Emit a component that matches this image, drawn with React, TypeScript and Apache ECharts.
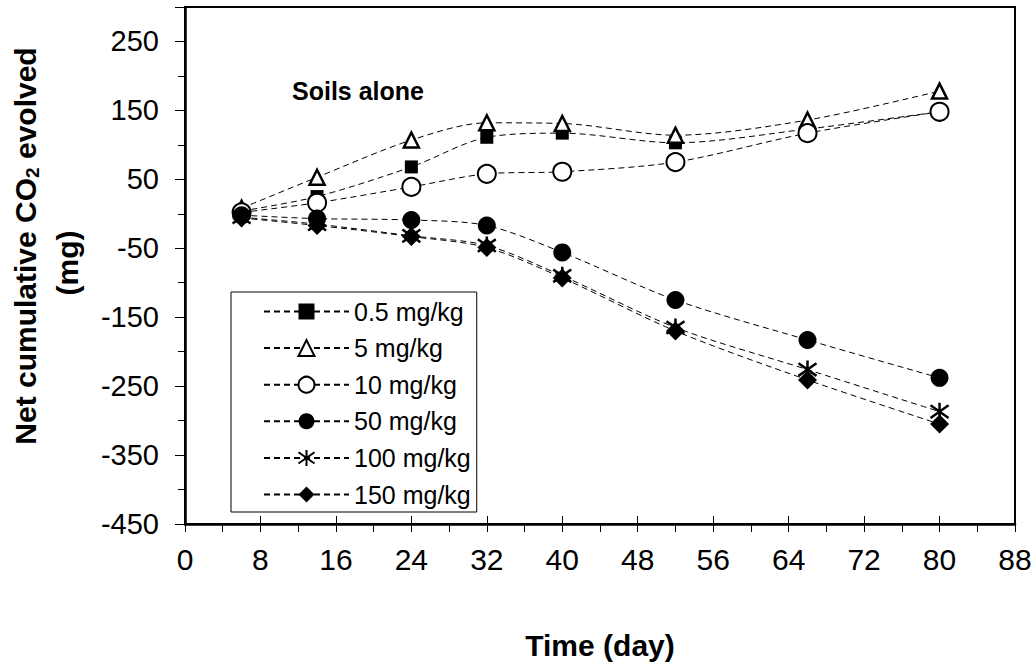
import React, { useEffect, useRef } from 'react';
import * as echarts from 'echarts';

const days = [6, 14, 24, 32, 40, 52, 66, 80];
const seriesNames = ['0.5 mg/kg', '5 mg/kg', '10 mg/kg', '50 mg/kg', '100 mg/kg', '150 mg/kg'];
const s05 = [4, 25, 68, 111, 117, 103, 123, 148];
const s5 = [8, 53, 107, 132, 131, 114, 136, 178];
const s10 = [2, 16, 39, 58, 61, 75, 117, 148];
const s50 = [-2, -7, -9, -17, -56, -125, -183, -238];
const s100 = [-5, -15, -32, -46, -90, -165, -226, -287];
const s150 = [-6, -17, -33, -49, -93, -170, -241, -305];
const xTicks = [0, 8, 16, 24, 32, 40, 48, 56, 64, 72, 80, 88];
const yTickLabels = [-450, -350, -250, -150, -50, 50, 150, 250];

const FONT = '"Liberation Sans", Arial, sans-serif';
const STAR = 'path://M10,0L10,20M2,3L18,17M2,17L18,3';

const markerStyles = [
  { symbol: 'rect', symbolSize: 13, itemStyle: { color: '#000', borderColor: '#000', borderWidth: 0 } },
  { symbol: 'triangle', symbolSize: 15, itemStyle: { color: '#fff', borderColor: '#000', borderWidth: 2.5 } },
  { symbol: 'circle', symbolSize: 18, itemStyle: { color: '#fff', borderColor: '#000', borderWidth: 2 } },
  { symbol: 'circle', symbolSize: 18, itemStyle: { color: '#000', borderColor: '#000', borderWidth: 0 } },
  { symbol: STAR, symbolSize: 18, itemStyle: { color: '#000', borderColor: '#000', borderWidth: 2.5 } },
  { symbol: 'diamond', symbolSize: 19, itemStyle: { color: '#000', borderColor: '#000', borderWidth: 0 } },
];

const allData = [s05, s5, s10, s50, s100, s150];

export default function App() {
  const ref = useRef<HTMLDivElement>(null);
  useEffect(() => {
    const chart = echarts.init(ref.current!, null, { renderer: 'svg' });
    const series = allData.map((vals, i) => ({
      name: seriesNames[i],
      type: 'line',
      xAxisIndex: 0,
      yAxisIndex: 0,
      smooth: 0.3,
      data: vals.map((v, j) => [days[j], v]),
      lineStyle: { color: '#000', width: 1, type: [6, 4] },
      symbol: markerStyles[i].symbol,
      symbolSize: markerStyles[i].symbolSize,
      itemStyle: markerStyles[i].itemStyle,
      showAllSymbol: true,
      z: 3,
    }));
    const option: any = {
      animation: false,
      backgroundColor: '#fff',
      grid: { left: 185, right: 21, top: 7, bottom: 146, show: true, borderColor: '#000', borderWidth: 2 },
      xAxis: [
        {
          type: 'value', min: 0, max: 88, interval: 4, position: 'bottom',
          axisLine: { show: true, onZero: false, lineStyle: { color: '#000', width: 2.5 } },
          axisTick: { show: true, inside: false, length: 8, lineStyle: { color: '#000', width: 1 } },
          axisLabel: { show: false },
          splitLine: { show: false },
        },
        {
          type: 'value', min: 0, max: 88, interval: 8, position: 'bottom',
          axisLine: { show: false, onZero: false },
          axisTick: { show: true, inside: true, length: 8, lineStyle: { color: '#000', width: 1 } },
          axisLabel: {
            show: true, margin: 20, fontSize: 30, fontFamily: FONT, color: '#000',
            formatter: (v: number) => (xTicks.includes(v) ? String(v) : ''),
          },
          splitLine: { show: false },
        },
      ],
      yAxis: [
        {
          type: 'value', min: -450, max: 300, interval: 50, position: 'left',
          axisLine: { show: true, onZero: false, lineStyle: { color: '#000', width: 2.5 } },
          axisTick: { show: true, inside: false, length: 7, lineStyle: { color: '#000', width: 1 } },
          axisLabel: { show: false },
          splitLine: { show: false },
        },
        {
          type: 'value', min: -400, max: 350, interval: 100, position: 'left',
          axisLine: { show: false, onZero: false },
          axisTick: { show: true, inside: false, length: 10, lineStyle: { color: '#000', width: 1 } },
          axisLabel: {
            show: true, margin: 26, fontSize: 29, fontFamily: FONT, color: '#000',
            formatter: (v: number) => (yTickLabels.includes(v - 50) ? String(v - 50) : ''),
          },
          splitLine: { show: false },
        },
      ],
      legend: {
        orient: 'vertical', left: 231, top: 292,
        data: seriesNames,
        borderColor: '#000', borderWidth: 1,
        padding: [6, 6, 4, 32],
        itemWidth: 85, itemHeight: 20, itemGap: 9.6,
        textStyle: { fontSize: 25, lineHeight: 27, fontFamily: FONT, color: '#000' },
      },
      graphic: [
        {
          type: 'text', left: 292, top: 78,
          style: { text: 'Soils alone', fontSize: 25, fontWeight: 'bold', fontFamily: FONT, fill: '#000' },
        },
        {
          type: 'text', x: 25, y: 246, rotation: Math.PI / 2,
          style: {
            text: '{a|Net cumulative CO}{s|2}{a| evolved}',
            align: 'center', verticalAlign: 'middle',
            rich: {
              a: { fontSize: 30, fontWeight: 'bold', fontFamily: FONT, fill: '#000' },
              s: { fontSize: 19, fontWeight: 'bold', fontFamily: FONT, fill: '#000', padding: [14, 0, 0, 0] },
            },
          },
        },
        {
          type: 'text', x: 67, y: 263, rotation: Math.PI / 2,
          style: { text: '(mg)', align: 'center', verticalAlign: 'middle', fontSize: 30, fontWeight: 'bold', fontFamily: FONT, fill: '#000' },
        },
        {
          type: 'text', x: 600, y: 645,
          style: { text: 'Time (day)', align: 'center', verticalAlign: 'middle', fontSize: 30, fontWeight: 'bold', fontFamily: FONT, fill: '#000' },
        },
      ],
      series,
    };
    chart.setOption(option);
    return () => chart.dispose();
  }, []);
  return <div ref={ref} style={{ position: 'fixed', left: 0, top: 0, width: 1036, height: 670 }} />;
}
